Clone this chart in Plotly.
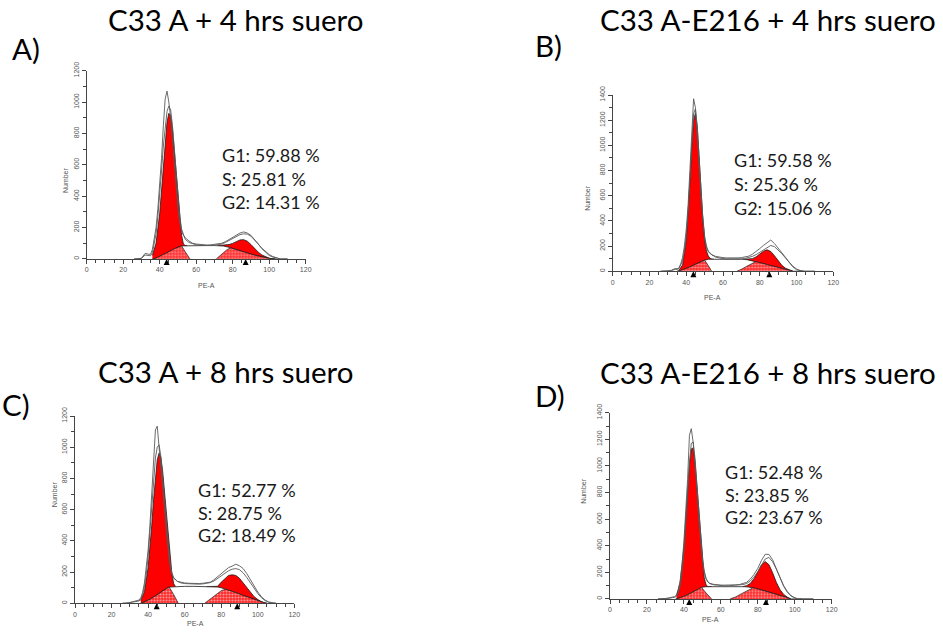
import plotly.graph_objects as go

# ---------------- data ----------------
TITLES = ["C33 A + 4 hrs suero", "C33 A-E216 + 4 hrs suero",
          "C33 A + 8 hrs suero", "C33 A-E216 + 8 hrs suero"]
LETTERS = ["A)", "B)", "C)", "D)"]
STATS = [["G1: 59.88 %", "S: 25.81 %", "G2: 14.31 %"],
         ["G1: 59.58 %", "S: 25.36 %", "G2: 15.06 %"],
         ["G1: 52.77 %", "S: 28.75 %", "G2: 18.49 %"],
         ["G1: 52.48 %", "S: 23.85 %", "G2: 23.67 %"]]
YMAX = [1200, 1400, 1200, 1400]
XTICK_STEP = 20
YTICK_STEP = 200

# channel grids (PE-A)
RX = [26, 28, 30, 32, 34, 35, 36, 37, 38, 39, 40, 41, 42, 43, 44, 45, 46, 47, 48, 49,
      50, 51, 52, 53, 54, 56, 58, 60, 62, 64, 66, 68, 70, 72, 74, 76, 78, 80, 82, 84,
      86, 88, 90, 92, 94, 96, 98, 100, 102, 104, 106, 108, 110]
G1X = [36, 38, 40, 41, 42, 43, 44, 45, 46, 47, 48, 49, 50, 51, 52, 53, 54, 55]
G2X = [72, 74, 76, 78, 80, 82, 84, 86, 88, 90, 92, 94, 96, 98, 100, 102, 104]

# ---- panel A ----
A_raw1 = [0, 0, 5, 35, 30, 30, 60, 120, 200, 320, 460, 640, 850, 1020, 1070, 1000, 900, 760, 600, 450,
          320, 230, 175, 150, 135, 115, 100, 95, 92, 90, 88, 90, 92, 95, 100, 110, 125, 140, 155, 165,
          172, 165, 150, 125, 95, 65, 40, 22, 12, 5, 0, 0, 0]
A_raw2 = [0, 0, 3, 25, 22, 20, 40, 90, 160, 270, 400, 560, 720, 850, 940, 975, 950, 850, 700, 540,
          390, 270, 190, 150, 125, 105, 95, 90, 88, 86, 85, 86, 88, 90, 95, 105, 118, 132, 145, 155,
          160, 158, 145, 122, 95, 68, 45, 28, 15, 6, 0, 0, 0]
A_g1 = [22, 100, 289, 432, 594, 750, 871, 928, 912, 826, 695, 543, 403, 270, 150, 95, 85, 85]
A_g2 = [85, 86, 87, 92, 99, 111, 121, 123, 113, 92, 67, 43, 25, 13, 5, 0, 0]
A_sx = [36, 38, 40, 42, 44, 46, 48, 50, 52, 56, 60, 65, 70, 75, 78, 80, 84, 88, 92, 96, 100, 103]
A_sy = [0, 5, 15, 27, 40, 51, 65, 75, 83, 85, 85, 85, 85, 82, 74, 66, 52, 38, 24, 12, 3, 0]
A_h1x = [37, 40, 44, 48, 52, 54, 56.6]
A_h1y = [0, 15, 40, 65, 83, 45, 0]
A_h2x = [71, 74, 77, 79, 80, 84, 88, 92, 96, 100, 103]
A_h2y = [0, 30, 60, 70, 66, 52, 38, 24, 12, 3, 0]
A_marks = [43.8, 87.1]

# ---- panel B ----
B_raw1 = [0, 0, 2, 8, 22, 20, 25, 60, 110, 200, 330, 520, 780, 1100, 1370, 1300, 1100, 850, 600, 400,
          260, 190, 155, 140, 130, 118, 110, 108, 106, 105, 104, 106, 108, 112, 120, 135, 155, 180, 205, 230,
          248, 220, 185, 150, 110, 70, 35, 12, 3, 0, 0, 0, 0]
B_raw2 = [0, 0, 0, 5, 15, 14, 20, 45, 80, 160, 280, 460, 700, 1000, 1250, 1290, 1150, 900, 640, 430,
          280, 200, 160, 145, 130, 112, 104, 100, 98, 97, 96, 97, 99, 102, 108, 118, 132, 150, 170, 190,
          205, 195, 170, 140, 105, 70, 40, 18, 5, 0, 0, 0, 0]
B_g1 = [6, 50, 241, 442, 710, 989, 1198, 1256, 1145, 912, 641, 409, 251, 161, 121, 103, 96, 96]
B_g2 = [96, 96, 100, 114, 135, 159, 170, 157, 123, 82, 47, 24, 9, 0, 0, 0, 0]
B_sx = [35, 38, 41, 44, 47, 50, 52, 56, 60, 65, 70, 73, 76, 78, 80, 84, 88, 92, 95, 97, 98]
B_sy = [0, 10, 28, 48, 70, 88, 95, 96, 96, 96, 95, 92, 84, 77, 68, 52, 36, 20, 9, 2, 0]
B_h1x = [35.5, 38, 41, 44, 47, 50, 52, 53.8]
B_h1y = [0, 10, 28, 48, 70, 88, 45, 0]
B_h2x = [67.5, 70, 73, 76, 78, 80, 84, 88, 92, 95, 98]
B_h2y = [0, 15, 40, 65, 77, 68, 52, 36, 20, 9, 0]
B_marks = [43.9, 85.2]

# ---- panel C ----
C_raw1 = [0, 0, 5, 12, 18, 20, 35, 70, 130, 220, 340, 500, 680, 880, 1110, 1135, 1010, 900, 760, 600,
          450, 330, 240, 185, 160, 140, 133, 130, 128, 126, 125, 126, 128, 132, 135, 150, 170, 190, 210, 228,
          238, 250, 240, 222, 190, 150, 110, 72, 42, 20, 8, 2, 0]
C_raw2 = [0, 0, 3, 8, 12, 14, 25, 55, 105, 185, 300, 450, 620, 790, 930, 1000, 1015, 940, 800, 640,
          480, 350, 255, 195, 165, 140, 130, 126, 124, 122, 121, 122, 124, 127, 132, 142, 158, 175, 193, 208,
          218, 222, 215, 195, 165, 130, 95, 62, 36, 17, 6, 0, 0]
C_g1 = [15, 74, 228, 349, 500, 664, 811, 919, 962, 934, 842, 710, 563, 424, 314, 190, 125, 107]
C_g2 = [107, 107, 106, 108, 135, 160, 178, 182, 178, 160, 130, 96, 65, 42, 24, 10, 2]
C_sx = [36, 38, 41, 44, 47, 50, 52, 56, 60, 65, 70, 75, 78, 80, 82, 84, 88, 92, 96, 100, 103, 105]
C_sy = [0, 8, 25, 47, 70, 95, 104, 107, 108, 108, 107, 106, 104, 99, 92, 85, 68, 50, 32, 15, 5, 0]
C_h1x = [36.5, 38, 41, 44, 47, 50, 51.5, 54, 56.5]
C_h1y = [0, 8, 25, 47, 70, 95, 105, 55, 0]
C_h2x = [71, 74, 77, 80, 82.5, 84, 88, 92, 96, 100, 103, 105]
C_h2y = [0, 25, 55, 80, 90, 85, 68, 50, 32, 15, 5, 0]
C_marks = [44.7, 88.8]

# ---- panel D ----
D_raw1 = [0, 0, 3, 8, 15, 18, 30, 70, 140, 260, 430, 640, 900, 1230, 1280, 1180, 1030, 830, 620, 430,
          290, 200, 150, 128, 118, 110, 106, 104, 104, 103, 104, 106, 108, 118, 125, 150, 185, 230, 290, 335,
          335, 295, 230, 160, 95, 50, 22, 8, 0, 0, 0, 0, 0]
D_raw2 = [0, 0, 2, 5, 10, 12, 20, 50, 105, 200, 350, 540, 780, 1020, 1170, 1180, 1060, 870, 660, 460,
          310, 210, 155, 128, 115, 106, 102, 100, 99, 99, 100, 101, 103, 108, 116, 135, 165, 205, 255, 300,
          312, 280, 225, 160, 100, 55, 25, 8, 0, 0, 0, 0, 0]
D_g1 = [25, 123, 391, 596, 818, 1011, 1128, 1135, 1033, 853, 646, 455, 270, 160, 105, 93, 93, 93]
D_g2 = [93, 100, 117, 152, 203, 256, 281, 258, 198, 126, 70, 34, 13, 0, 0, 0, 0]
D_sx = [35.5, 38, 41, 44, 47, 49.5, 52, 56, 60, 65, 70, 73, 75, 77.5, 80, 84, 88, 92, 95, 97.5]
D_sy = [0, 8, 25, 45, 67, 87, 92, 93, 93, 93, 93, 92, 89, 84, 75, 60, 44, 27, 14, 0]
D_h1x = [36, 38, 41, 44, 47, 49.5, 52, 55]
D_h1y = [0, 8, 25, 45, 67, 87, 45, 0]
D_h2x = [65, 68, 71, 74, 77.5, 80, 84, 88, 92, 95, 97.5]
D_h2y = [0, 15, 38, 62, 84, 75, 60, 44, 27, 14, 0]
D_marks = [42.9, 84.4]

PANELS = [
    (A_raw1, A_raw2, A_g1, A_g2, A_sx, A_sy, A_h1x, A_h1y, A_h2x, A_h2y, A_marks),
    (B_raw1, B_raw2, B_g1, B_g2, B_sx, B_sy, B_h1x, B_h1y, B_h2x, B_h2y, B_marks),
    (C_raw1, C_raw2, C_g1, C_g2, C_sx, C_sy, C_h1x, C_h1y, C_h2x, C_h2y, C_marks),
    (D_raw1, D_raw2, D_g1, D_g2, D_sx, D_sy, D_h1x, D_h1y, D_h2x, D_h2y, D_marks),
]

# ---------------- layout geometry (pixels of a 943x634 canvas) ----------------
W, H = 943, 634
# plot-area boxes: left, right, top, bottom (px)
BOX = [(86.7, 305.7, 70.7, 259.0),
       (612.7, 833.3, 95.0, 271.3),
       (75.0, 294.3, 416.0, 603.3),
       (610.0, 831.7, 412.7, 599.0)]
TITLE_POS = [(235, 19), (768, 19), (225, 371), (768, 372)]
LETTER_POS = [(26, 49), (548, 46), (16, 404), (550, 395)]
STATS_POS = [(220, 155, 23.6), (732, 160, 23.8), (196, 490, 22.5), (723, 472, 22.5)]

RED = "#ff0000"
LINE = "#1a1a1a"
RAW = "#5a5a5a"
AX = "#444444"
TICKFONT = dict(family="Liberation Sans, Arial, sans-serif", size=7, color="#555555")
BIGFONT = "Lato, Carlito, sans-serif"


def px(x):
    return x / W


def py(y):
    return (H - y) / H


fig = go.Figure()
annotations = []

for i, (raw1, raw2, g1, g2, sx, sy, h1x, h1y, h2x, h2y, marks) in enumerate(PANELS):
    n = "" if i == 0 else str(i + 1)
    xa, ya = "x" + n, "y" + n
    l, r, t, b = BOX[i]
    ymax = YMAX[i]

    common = dict(xaxis=xa, yaxis=ya, showlegend=False, hoverinfo="skip")
    # G1 and G2 fitted peaks (solid red)
    fig.add_trace(go.Scatter(x=G1X, y=g1, mode="lines", fill="tozeroy", fillcolor=RED,
                             line=dict(color=LINE, width=0.8), **common))
    fig.add_trace(go.Scatter(x=G2X, y=g2, mode="lines", fill="tozeroy", fillcolor=RED,
                             line=dict(color=LINE, width=0.8), **common))
    # S-phase body (white with black outline)
    fig.add_trace(go.Scatter(x=sx, y=sy, mode="lines", fill="tozeroy", fillcolor="white",
                             line=dict(color=LINE, width=0.8), **common))
    # hatched S parts under the peaks
    for hx, hy in ((h1x, h1y), (h2x, h2y)):
        fig.add_trace(go.Scatter(x=hx, y=hy, mode="lines", fill="tozeroy",
                                 fillcolor="#ff3030",
                                 fillpattern=dict(shape=".", fgcolor="#ffffff", bgcolor="#ff2a2a",
                                                  size=3, solidity=0.4),
                                 line=dict(color=LINE, width=0.7), **common))
    # raw histograms
    for raw in (raw1, raw2):
        fig.add_trace(go.Scatter(x=RX, y=raw, mode="lines",
                                 line=dict(color=RAW, width=0.9), **common))
    # mean markers (apex on the axis, body below it)
    fig.add_trace(go.Scatter(x=marks, y=[0] * len(marks),
                             mode="markers", cliponaxis=False,
                             marker=dict(symbol="arrow-up", size=6, color="black",
                                         line=dict(width=0)),
                             **common))

    fig.layout["xaxis" + n] = dict(
        domain=[px(l), px(r)], range=[0, 120], anchor=ya, tick0=0, dtick=XTICK_STEP,
        ticks="outside", ticklen=4, tickwidth=1, tickcolor=AX, tickfont=TICKFONT,
        minor=dict(tick0=0, dtick=5, ticks="outside", ticklen=3, tickcolor=AX, showgrid=False),
        showline=True, linecolor=AX, linewidth=1, showgrid=False, zeroline=False,
        automargin=False, fixedrange=True)
    fig.layout["yaxis" + n] = dict(
        domain=[py(b), py(t)], range=[-0.5, ymax], anchor=xa, tick0=0, dtick=YTICK_STEP,
        tickangle=-90, ticks="outside", ticklen=4, tickwidth=1, tickcolor=AX, tickfont=TICKFONT,
        minor=dict(tick0=0, dtick=100, ticks="outside", ticklen=3, tickcolor=AX, showgrid=False),
        showline=True, linecolor=AX, linewidth=1, showgrid=False, zeroline=False,
        automargin=False, fixedrange=True)

    # axis titles
    annotations.append(dict(text="PE-A", x=px((l + r) / 2), y=py(b + 26), xref="paper", yref="paper",
                            showarrow=False, font=dict(family="Liberation Sans, Arial", size=7, color="#555")))
    annotations.append(dict(text="Number", x=px(l - 26), y=py((t + b) / 2), xref="paper", yref="paper",
                            textangle=-90, showarrow=False,
                            font=dict(family="Liberation Sans, Arial", size=7, color="#555")))
    # title and panel letter
    tx, ty = TITLE_POS[i]
    annotations.append(dict(text=TITLES[i], x=px(tx), y=py(ty), xref="paper", yref="paper",
                            showarrow=False, xanchor="center", yanchor="middle",
                            font=dict(family=BIGFONT, size=29.5, color="black")))
    lx, ly = LETTER_POS[i]
    annotations.append(dict(text=LETTERS[i], x=px(lx), y=py(ly), xref="paper", yref="paper",
                            showarrow=False, xanchor="center", yanchor="middle",
                            font=dict(family=BIGFONT, size=29.5, color="black")))
    sx0, sy0, dy = STATS_POS[i]
    for k, s in enumerate(STATS[i]):
        annotations.append(dict(text=s, x=px(sx0), y=py(sy0 + k * dy), xref="paper", yref="paper",
                                showarrow=False, xanchor="left", yanchor="middle",
                                font=dict(family=BIGFONT, size=18, color="#1a1a1a")))

fig.update_layout(width=W, height=H, margin=dict(l=0, r=0, t=0, b=0),
                  paper_bgcolor="white", plot_bgcolor="white",
                  annotations=annotations)

fig.write_html("out.html", config={"displayModeBar": False, "staticPlot": True},
               post_script="document.body.style.margin='0px';document.body.style.overflow='hidden';")
